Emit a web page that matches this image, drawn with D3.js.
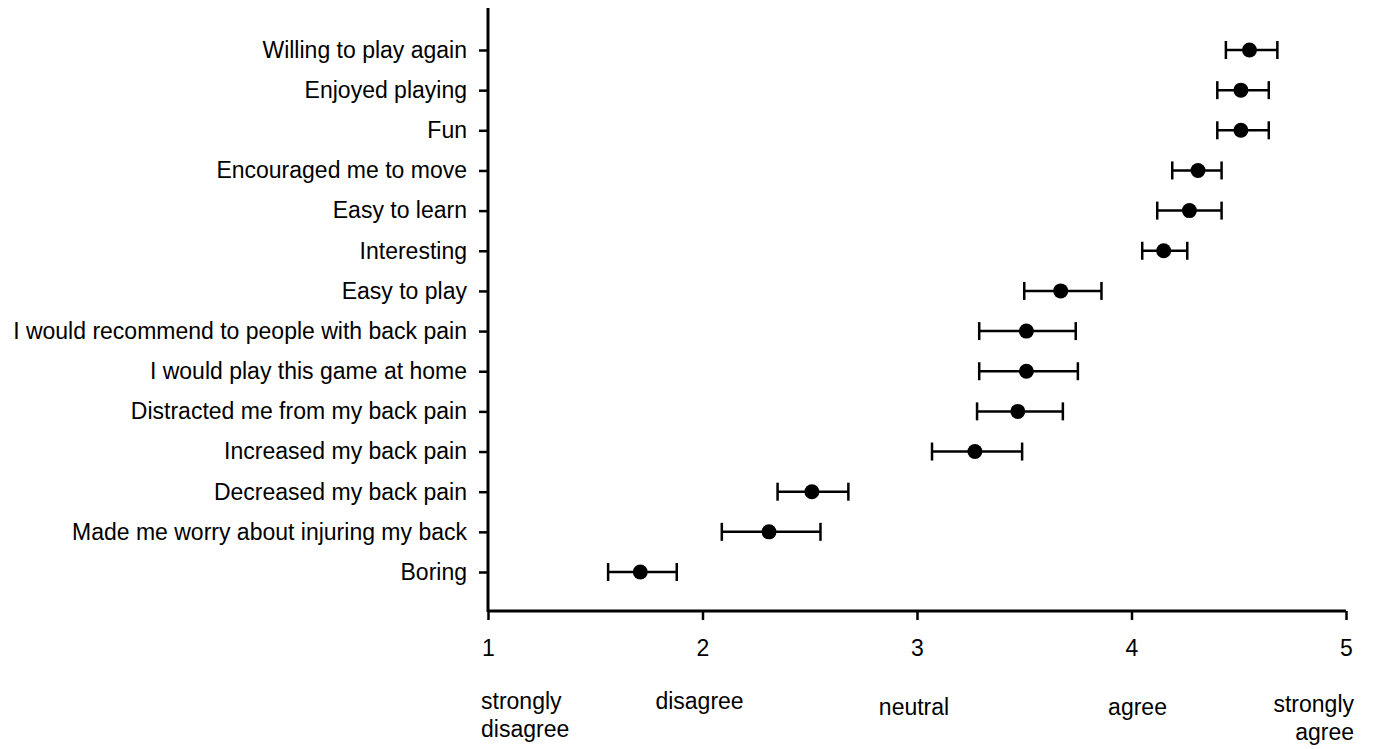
<!DOCTYPE html>
<html>
<head>
<meta charset="utf-8">
<script src="https://cdn.jsdelivr.net/npm/d3@7"></script>
<style>
  body { margin: 0; background: #fff; }
  text { font-family: "Liberation Sans", Arial, sans-serif; fill: #000; }
</style>
</head>
<body>
<div id="canvas"></div>
<script>
var items = ['Willing to play again', 'Enjoyed playing', 'Fun', 'Encouraged me to move',
    'Easy to learn', 'Interesting', 'Easy to play', 'I would recommend to people with back pain',
    'I would play this game at home', 'Distracted me from my back pain', 'Increased my back pain',
    'Decreased my back pain', 'Made me worry about injuring my back', 'Boring'];
var means = [4.55, 4.51, 4.51, 4.31, 4.27, 4.15, 3.67, 3.51, 3.51, 3.47, 3.27, 2.51, 2.31, 1.71];
var lows  = [4.44, 4.40, 4.40, 4.19, 4.12, 4.05, 3.50, 3.29, 3.29, 3.28, 3.07, 2.35, 2.09, 1.56];
var highs = [4.68, 4.64, 4.64, 4.42, 4.42, 4.26, 3.86, 3.74, 3.75, 3.68, 3.49, 2.68, 2.55, 1.88];
var xTicks = [1, 2, 3, 4, 5];
var scaleWords = [['strongly', 'disagree'], ['disagree'], ['neutral'], ['agree'], ['strongly', 'agree']];

var data = items.map(function(d, i) {
    return { item: d, mean: means[i], lo: lows[i], hi: highs[i] };
});

var svg = d3.select('#canvas').append('svg')
    .attr('width', 1375)
    .attr('height', 749);

var x = d3.scaleLinear().domain([1, 5]).range([488, 1346]);
var y = d3.scalePoint().domain(items).range([50, 572]);

// axes
var xAxis = svg.append('g')
    .attr('transform', 'translate(0,611)')
    .call(d3.axisBottom(x).tickValues(xTicks).tickSize(9).tickPadding(20).tickFormat(d3.format('d')));
xAxis.select('.domain').attr('d', 'M488,0H1346').attr('stroke-width', 3);
xAxis.selectAll('.tick line').attr('stroke-width', 2.5);
xAxis.selectAll('.tick text').attr('font-size', 23);

var yAxis = svg.append('g')
    .attr('transform', 'translate(488,0)')
    .call(d3.axisLeft(y).tickSize(9).tickPadding(12));
yAxis.select('.domain').attr('d', 'M0,8V612').attr('stroke-width', 3);
yAxis.selectAll('.tick line').attr('stroke-width', 2.5);
yAxis.selectAll('.tick text').attr('font-size', 23);

// error bars
var rows = svg.selectAll('.row')
    .data(data)
    .enter()
    .append('g')
    .attr('class', 'row')
    .attr('transform', function(d) { return 'translate(0,' + y(d.item) + ')'; });

rows.append('line')
    .attr('x1', function(d) { return x(d.lo); })
    .attr('x2', function(d) { return x(d.hi); })
    .attr('stroke', '#000').attr('stroke-width', 2.5);
rows.append('line')
    .attr('x1', function(d) { return x(d.lo); })
    .attr('x2', function(d) { return x(d.lo); })
    .attr('y1', -9).attr('y2', 9)
    .attr('stroke', '#000').attr('stroke-width', 2.5);
rows.append('line')
    .attr('x1', function(d) { return x(d.hi); })
    .attr('x2', function(d) { return x(d.hi); })
    .attr('y1', -9).attr('y2', 9)
    .attr('stroke', '#000').attr('stroke-width', 2.5);
rows.append('circle')
    .attr('cx', function(d) { return x(d.mean); })
    .attr('r', 7.5)
    .attr('fill', '#000');

// agreement words under the axis
var wordY = [701, 701, 707, 707, 704];
var anchors = ['start', 'middle', 'middle', 'middle', 'end'];
var dx = [-7, -3, -3, 6, 8];
var words = svg.selectAll('.word')
    .data(scaleWords)
    .enter()
    .append('text')
    .attr('class', 'word')
    .attr('font-size', 23)
    .attr('text-anchor', function(d, i) { return anchors[i]; })
    .attr('transform', function(d, i) {
        return 'translate(' + (x(xTicks[i]) + dx[i]) + ',' + wordY[i] + ')';
    });
words.selectAll('tspan')
    .data(function(d) { return d; })
    .enter()
    .append('tspan')
    .attr('x', 0)
    .attr('y', function(d, i) { return i * 28; })
    .attr('dy', '0.35em')
    .text(function(d) { return d; });
</script>
</body>
</html>
